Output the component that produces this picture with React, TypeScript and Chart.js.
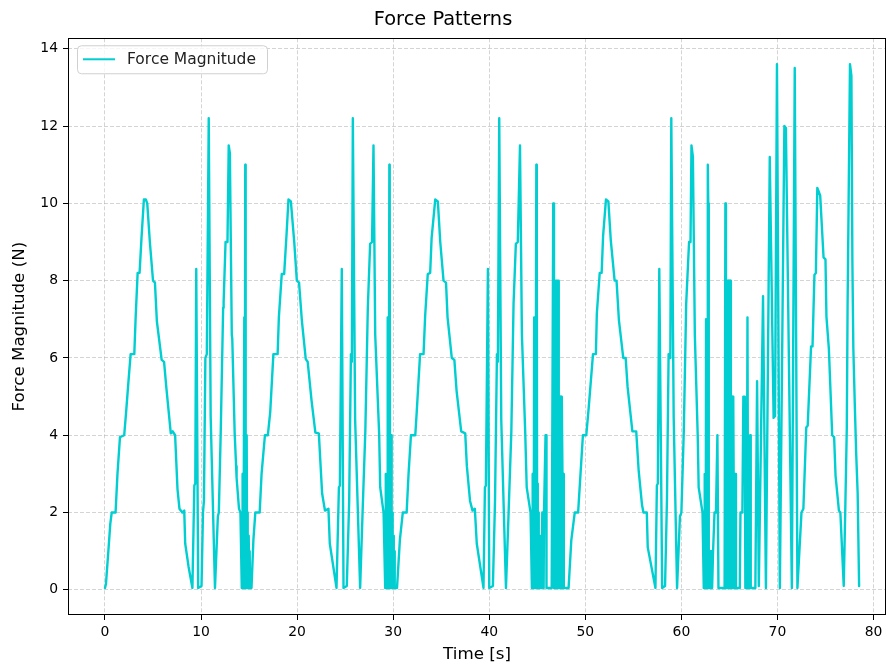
import React, { useEffect, useRef } from "react";
import { Chart, registerables } from "chart.js";

Chart.register(...registerables);

const FONT = "'DejaVu Sans', sans-serif";
const TITLE = "Force Patterns";
const X_LABEL = "Time [s]";
const Y_LABEL = "Force Magnitude (N)";
const SERIES_LABEL = "Force Magnitude";
const LINE_COLOR = "#00CED1";

// time (s)
const timeS: number[] = [
  // cycle 1
  0.0, 0.1, 0.35, 0.55, 0.7, 1.1, 1.3, 1.56, 2.0, 2.2, 2.43, 2.67, 3.05, 3.2, 3.4, 3.6, 3.8, 4.05, 4.25, 4.4,
  4.67, 5.0, 5.2, 5.4, 5.9, 6.15, 6.4, 6.85, 7.05, 7.3, 7.55, 7.75, 8.05, 8.25, 8.35, 8.7, 9.1, 9.3, 9.4, 9.5,
  9.7, 10.05, 10.2, 10.3, 10.45, 10.6, 10.8, 11.0, 11.45, 11.75, 11.85, 12.05, 12.3, 12.35, 12.55, 12.75, 12.88, 13.0, 13.2, 13.25,
  13.5, 13.65, 13.7, 13.95, 14.1,
  14.24, 14.28, 14.31, 14.34, 14.38, 14.42, 14.46, 14.5, 14.53, 14.57, 14.6, 14.63, 14.66, 14.7, 14.73, 14.77, 14.8, 14.84, 14.87, 14.91,
  14.94, 14.98, 15.02, 15.06, 15.1, 15.25,
  15.45, 15.65, 16.1, 16.3, 16.65, 16.95, 17.2,
  // cycle 2
  17.53, 17.97, 18.1, 18.4, 18.65, 18.9, 19.1, 19.35, 19.7, 19.97, 20.2, 20.5, 20.9, 21.1, 21.5,
  21.9, 22.26, 22.6, 22.9, 23.26, 23.4, 24.1, 24.35, 24.45, 24.65, 24.83, 25.17, 25.42, 25.6, 25.7, 25.8, 26.04, 26.56, 26.8, 27.1,
  27.36, 27.6, 27.8, 27.95, 28.13, 28.54, 28.65, 29.0,
  29.17, 29.21, 29.25, 29.29, 29.33, 29.37, 29.41, 29.45, 29.49, 29.53, 29.6, 29.64, 29.68, 29.72, 29.76, 29.8, 29.84, 29.88, 29.92, 29.96,
  30.0, 30.04, 30.08, 30.12, 30.16, 30.4,
  30.7, 31.0, 31.4, 31.6, 31.85, 32.3, 32.45, 32.8, 33.16,
  // cycle 3
  33.33, 33.6, 33.85, 34.0, 34.38, 34.65, 34.9, 35.24, 35.5, 35.66,
  36.1, 36.37, 36.6, 37.08, 37.5, 37.67, 38.0, 38.26, 38.5, 38.7, 39.4, 39.55, 39.65, 39.86, 40.0, 40.38, 40.6, 40.8, 40.9, 41.04,
  41.25, 41.74, 42.0, 42.3, 42.53, 42.77, 42.97, 43.2, 43.4, 43.75, 43.9, 44.3,
  44.44, 44.48, 44.52, 44.56, 44.6, 44.64, 44.68, 44.72, 44.76, 44.8, 44.9, 44.95, 44.99, 45.03, 45.07, 45.11, 45.15, 45.19, 45.23, 45.27,
  45.31, 45.35, 45.39, 45.43, 45.47, 45.52, 45.62, 45.66, 45.7, 45.8, 45.86, 45.92, 45.96, 46.5, 46.66, 46.74, 46.82, 46.88, 46.94, 46.99,
  47.03, 47.08, 47.12, 47.17, 47.21, 47.26, 47.3, 47.35, 47.39, 47.44, 47.48, 47.53, 47.57, 47.62, 47.67, 47.71, 47.76, 47.9,
  48.26, 48.54, 48.9, 49.25, 49.5, 49.75, 50.1, 50.35, 50.8, 51.1,
  // cycle 4
  51.2, 51.5, 51.7, 51.85, 52.15, 52.4, 52.65, 53.05, 53.25, 53.5,
  53.95, 54.2, 54.4, 54.9, 55.3, 55.55, 55.9, 56.05, 56.4, 56.5, 57.3, 57.45, 57.55, 57.7, 58.0, 58.3, 58.5, 58.67, 58.85, 58.95,
  59.2, 59.55, 59.85, 60.0, 60.25, 60.5, 60.8, 60.95, 61.05, 61.2, 61.4, 61.7, 61.8, 62.2,
  62.33, 62.37, 62.41, 62.45, 62.49, 62.53, 62.57, 62.61, 62.65, 62.69, 62.75, 62.8, 62.85, 62.89, 62.93, 62.97, 63.01, 63.05, 63.09, 63.13,
  63.2, 63.3, 63.45, 63.6, 63.75, 63.8, 63.86, 64.5, 64.58, 64.64, 64.7, 64.75, 64.8, 64.85, 64.9, 64.95, 65.0, 65.1, 65.15, 65.2,
  65.25, 65.3, 65.35, 65.4, 65.45, 65.5, 65.55, 65.62, 65.68, 66.08, 66.15, 66.35, 66.45, 66.6, 66.66, 66.8, 66.88, 66.95, 67.1, 67.16,
  67.22, 67.7, 67.88, 68.06,
  68.5, 68.8, 69.2, 69.6, 69.75, 69.95, 70.25, 70.72, 70.88, 71.5, 71.8, 72.08,
  // cycle 5
  72.5, 72.7, 73.0, 73.15, 73.5, 73.65, 73.85, 74.0, 74.15, 74.3, 74.45, 74.8, 75.0, 75.1, 75.35, 75.7, 75.9, 76.05, 76.4,
  76.55, 76.9, 77.07, 77.22, 77.3, 77.4, 77.55, 77.7, 77.8, 77.9, 78.05, 78.2, 78.35, 78.5,
];

// force magnitude (N)
const forceN: number[] = [
  // cycle 1
  0.05, 0.15, 1.0, 1.7, 2.0, 2.0, 3.0, 3.95, 4.0, 4.6, 5.35, 6.1, 6.1, 7.1, 8.2, 8.2, 9.1, 10.1, 10.1, 10.0,
  9.0, 8.0, 7.95, 6.95, 5.95, 5.9, 5.2, 4.05, 4.1, 4.0, 2.6, 2.1, 2.0, 2.05, 1.2, 0.6, 0.05, 2.7, 2.75, 8.3,
  0.05, 0.1, 2.0, 2.3, 6.0, 6.1, 12.2, 4.5, 0.05, 1.9, 2.0, 4.1, 7.3, 7.45, 9.0, 9.0, 11.5, 11.3, 6.6, 6.5,
  4.05, 3.2, 2.9, 2.1, 2.0,
  0.05, 2.0, 3.0, 0.05, 2.5, 0.05, 2.0, 7.05, 0.05, 2.0, 11.0, 10.0, 0.05, 3.0, 0.05, 4.0, 0.05, 2.0, 0.05, 1.0,
  0.05, 1.4, 0.05, 1.0, 0.05, 0.05,
  1.3, 2.0, 2.0, 3.0, 4.0, 4.0, 4.6,
  // cycle 2
  6.1, 6.1, 7.05, 8.17, 8.17, 9.2, 10.1, 10.05, 9.0, 8.0, 7.95, 6.95, 5.97, 5.9, 4.9,
  4.07, 4.05, 2.5, 2.05, 2.1, 1.2, 0.05, 2.65, 2.7, 8.3, 0.05, 0.1, 2.3, 6.1, 5.9, 12.2, 4.4, 0.05, 1.9, 4.1,
  7.3, 8.95, 9.0, 11.5, 6.6, 4.03, 2.65, 2.0,
  0.05, 2.0, 3.0, 0.05, 2.5, 0.05, 2.0, 7.05, 0.05, 2.0, 11.0, 10.0, 0.05, 3.0, 0.05, 4.0, 0.05, 2.0, 0.05, 1.0,
  0.05, 1.4, 0.05, 1.0, 0.05, 0.05,
  1.3, 2.0, 2.0, 3.0, 4.0, 4.0, 4.6, 6.1, 6.1,
  // cycle 3
  7.1, 8.17, 8.2, 9.1, 10.1, 10.05, 9.0, 8.0, 7.95, 7.05,
  6.0, 5.95, 5.15, 4.1, 4.05, 3.2, 2.3, 2.05, 2.1, 1.2, 0.05, 2.65, 2.7, 8.3, 0.05, 0.1, 2.3, 6.1, 5.9, 12.2,
  4.4, 0.05, 1.9, 4.1, 7.4, 8.95, 9.0, 11.5, 6.6, 4.03, 2.65, 2.0,
  0.05, 2.0, 3.0, 0.05, 2.5, 0.05, 7.05, 0.05, 2.0, 0.05, 11.0, 9.0, 0.05, 2.75, 0.05, 2.0, 0.05, 1.0, 0.05, 1.4,
  0.05, 1.0, 0.05, 1.4, 0.05, 2.0, 2.0, 0.05, 2.0, 2.0, 4.0, 4.0, 0.05, 0.05, 10.0, 0.05, 6.0, 0.05, 8.0, 0.05,
  8.0, 0.05, 8.0, 0.05, 8.0, 0.05, 5.0, 0.05, 5.0, 0.05, 5.0, 0.05, 5.0, 3.0, 0.05, 3.0, 0.05, 0.05,
  0.05, 1.28, 2.0, 2.0, 3.0, 4.0, 4.0, 4.7, 6.1, 6.1,
  // cycle 4
  7.15, 8.2, 8.2, 9.15, 10.1, 10.05, 9.05, 8.0, 8.0, 6.97,
  6.0, 6.0, 5.25, 4.1, 4.1, 3.1, 2.2, 2.0, 2.0, 1.1, 0.05, 2.7, 2.75, 8.3, 0.05, 0.1, 2.35, 6.1, 6.0, 12.2,
  4.45, 0.05, 1.9, 2.0, 4.1, 7.4, 9.0, 9.0, 11.5, 11.2, 6.6, 4.0, 2.65, 2.0,
  0.05, 1.0, 3.0, 0.05, 1.0, 0.05, 7.0, 0.05, 1.0, 0.05, 11.0, 10.0, 0.05, 1.0, 0.05, 1.0, 0.05, 1.0, 0.05, 1.0,
  0.05, 1.0, 2.0, 2.0, 4.0, 4.0, 0.05, 0.05, 10.0, 0.05, 8.0, 0.05, 8.0, 0.05, 8.0, 0.05, 8.0, 8.0, 0.05, 5.0,
  0.05, 5.0, 0.05, 5.0, 5.0, 0.05, 3.0, 3.0, 0.05, 0.05, 2.0, 2.0, 5.0, 5.0, 0.05, 0.05, 7.05, 0.05, 0.05, 4.0,
  0.05, 0.05, 5.4, 0.1,
  7.6, 0.05, 11.2, 4.45, 4.5, 13.6, 0.05, 12.0, 11.95, 0.05, 13.5, 0.05,
  // cycle 5
  2.0, 2.1, 4.2, 4.25, 6.3, 6.3, 8.15, 8.2, 10.4, 10.3, 10.2, 8.6, 8.55, 7.07, 6.25, 4.0, 3.95, 2.95, 2.05,
  2.0, 0.1, 2.2, 4.2, 7.3, 9.8, 13.6, 13.3, 8.5, 6.25, 4.8, 3.5, 2.5, 0.1,
];

const X_MIN = -3.85;
const X_MAX = 81.3;
const Y_MIN = -0.65;
const Y_MAX = 14.27;

const framePlugin = {
  id: "frameBox",
  afterDatasetsDraw(chart: any) {
    const { ctx, chartArea } = chart;
    ctx.save();
    ctx.strokeStyle = "#000";
    ctx.lineWidth = 1;
    ctx.strokeRect(
      Math.round(chartArea.left) + 0.5,
      Math.round(chartArea.top) + 0.5,
      Math.round(chartArea.right - chartArea.left) - 1,
      Math.round(chartArea.bottom - chartArea.top) - 1
    );
    ctx.restore();
  },
};

const legendPlugin = {
  id: "mplLegend",
  afterDraw(chart: any) {
    const { ctx, chartArea } = chart;
    const ds = chart.data.datasets[0];
    const x = chartArea.left + 9;
    const y = chartArea.top + 7;
    const w = 190;
    const h = 28;
    ctx.save();
    ctx.beginPath();
    ctx.roundRect(x + 0.5, y + 0.5, w, h, 4);
    ctx.fillStyle = "rgba(255,255,255,0.8)";
    ctx.fill();
    ctx.strokeStyle = "#d0d0d0";
    ctx.lineWidth = 1;
    ctx.stroke();
    const cy = y + h / 2;
    ctx.beginPath();
    ctx.moveTo(x + 6, cy);
    ctx.lineTo(x + 38, cy);
    ctx.strokeStyle = ds.borderColor;
    ctx.lineWidth = 2;
    ctx.stroke();
    ctx.fillStyle = "#222";
    ctx.font = `15.5px ${FONT}`;
    ctx.textBaseline = "middle";
    ctx.textAlign = "left";
    ctx.fillText(ds.label, x + 50, cy + 1);
    ctx.restore();
  },
};

export default function App() {
  const ref = useRef<HTMLCanvasElement | null>(null);

  useEffect(() => {
    if (!ref.current) return;
    const points = timeS.map((t, i) => ({ x: t, y: forceN[i] }));
    const gridColor = "rgba(176,176,176,0.55)";
    const tickFont = { family: FONT, size: 13.9 };
    const chart = new Chart(ref.current, {
      type: "line",
      data: {
        datasets: [
          {
            label: SERIES_LABEL,
            data: points,
            borderColor: LINE_COLOR,
            backgroundColor: LINE_COLOR,
            borderWidth: 2.4,
            borderJoinStyle: "round",
            borderCapStyle: "round",
            pointRadius: 0,
            tension: 0,
            fill: false,
          },
        ],
      },
      options: {
        animation: false,
        responsive: false,
        parsing: false as any,
        layout: { padding: { left: 0, right: 1, top: 0, bottom: 0 } },
        plugins: {
          legend: { display: false },
          tooltip: { enabled: false },
          title: {
            display: true,
            text: TITLE,
            color: "#000",
            font: { family: FONT, size: 19.4, weight: "normal" as any },
            padding: { top: 8, bottom: 7 },
          },
        },
        scales: {
          x: {
            type: "linear",
            min: X_MIN,
            max: X_MAX,
            ticks: {
              stepSize: 10,
              includeBounds: false,
              color: "#000",
              font: tickFont,
              padding: 4,
              maxRotation: 0,
              autoSkip: false,
            },
            grid: {
              color: gridColor,
              lineWidth: 1,
              tickColor: "#000",
              tickLength: 5,
              tickWidth: 1,
            },
            border: { display: false, color: "#000", width: 1, dash: [4, 2] },
            title: {
              display: true,
              text: X_LABEL,
              color: "#000",
              font: { family: FONT, size: 16.7 },
              padding: { top: 0, bottom: 3 },
            },
            afterFit: (s: any) => {
              s.height = 53;
            },
          },
          y: {
            type: "linear",
            min: Y_MIN,
            max: Y_MAX,
            ticks: {
              stepSize: 2,
              includeBounds: false,
              color: "#000",
              font: tickFont,
              padding: 5,
            },
            grid: {
              color: gridColor,
              lineWidth: 1,
              tickColor: "#000",
              tickLength: 5,
              tickWidth: 1,
            },
            border: { display: false, color: "#000", width: 1, dash: [4, 2] },
            title: {
              display: true,
              text: Y_LABEL,
              color: "#000",
              font: { family: FONT, size: 16.7 },
              padding: { top: 10, bottom: 0 },
            },
            afterFit: (s: any) => {
              s.width = 68;
            },
          },
        },
      },
      plugins: [framePlugin, legendPlugin],
    });
    return () => chart.destroy();
  }, []);

  return (
    <div style={{ position: "fixed", left: 0, top: 0, width: 887, height: 668, background: "#fff" }}>
      <canvas ref={ref} width={887} height={668} />
    </div>
  );
}
